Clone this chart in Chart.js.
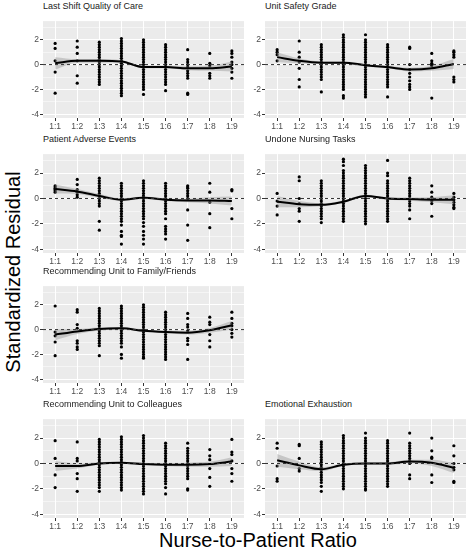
<!DOCTYPE html>
<html>
<head>
<meta charset="utf-8">
<script src="https://cdn.jsdelivr.net/npm/chart.js@4.4.1/dist/chart.umd.min.js"></script>
<style>
  body { margin:0; background:#fff; font-family:"Liberation Sans", Arial, sans-serif; }
  #wrap { position:relative; width:474px; height:556px; }
  .panel { position:absolute; }
  .ptitle { position:absolute; font-size:9px; color:#1a1a1a; white-space:nowrap; }
  #ytitle { position:absolute; left:13px; top:272px; transform:translate(-50%,-50%) rotate(-90deg); font-size:20px; white-space:nowrap; color:#000; }
  #xtitle { position:absolute; left:258px; top:540px; transform:translate(-50%,-50%); font-size:20px; white-space:nowrap; color:#000; }
</style>
</head>
<body>
<div id="wrap">
  <div id="ytitle">Standardized Residual</div>
  <div id="xtitle">Nurse-to-Patient Ratio</div>
</div>
<script>
// categorie asse x
var ratios = ['1:1','1:2','1:3','1:4','1:5','1:6','1:7','1:8','1:9'];
var titles = ['Last Shift Quality of Care', 'Unit Safety Grade', 'Patient Adverse Events',
  'Undone Nursing Tasks', 'Recommending Unit to Family/Friends',
  'Recommending Unit to Colleagues', 'Emotional Exhaustion'];

// residui per ogni rapporto (un array per colonna)
var qualityPts = [
  [1.7,1.3,0.3,-0.6,-2.3],
  [1.9,1.4,0.9,0.3,-0.9,-1.5],
  [1.8,1.6,1.4,1.2,1.0,0.8,0.6,0.4,0.2,0,-0.2,-0.4,-0.6,-0.8,-1.0,-1.2,-1.4,-1.6],
  [2.1,1.9,1.7,1.5,1.3,1.1,0.9,0.7,0.5,0.3,0.1,-0.1,-0.3,-0.5,-0.7,-0.9,-1.1,-1.3,-1.5,-1.7,-1.9,-2.1,-2.3,-2.5],
  [2.0,1.8,1.6,1.4,1.2,1.0,0.8,0.6,0.4,0.2,0,-0.2,-0.4,-0.6,-0.8,-1.0,-1.2,-1.4,-1.6,-1.8,-2.0,-2.4],
  [1.6,1.4,1.2,1.0,0.8,0.6,0.4,0.2,0,-0.2,-0.4,-0.6,-0.8,-1.0,-1.2,-1.4,-1.6,-2.1],
  [1.2,0.4,0.2,0,-0.2,-0.5,-0.7,-0.9,-1.1,-2.3,-2.4],
  [0.9,0.1,-0.1,-0.7,-0.9,-1.1],
  [1.1,0.9,0.6,0.2,0,-0.3,-0.6,-1.1]
];
var safetyPts = [
  [1.2,1.0,0.8,0.3],
  [1.9,1.0,0.6,0.2,-0.3,-1.2,-1.8],
  [1.6,1.4,1.2,1.0,0.8,0.6,0.4,0.2,0,-0.2,-0.4,-0.6,-0.8,-1.0,-1.2,-2.2],
  [2.4,2.2,2.0,1.8,1.6,1.4,1.2,1.0,0.8,0.6,0.4,0.2,0,-0.2,-0.4,-0.6,-0.8,-1.0,-1.2,-1.4,-1.6,-1.8,-2.0,-2.5,-2.7],
  [2.4,2.0,1.8,1.6,1.4,1.2,1.0,0.8,0.6,0.4,0.2,0,-0.2,-0.4,-0.6,-0.8,-1.0,-1.2,-1.4,-1.6,-1.8,-2.0,-2.2,-2.4,-2.6],
  [1.6,1.4,1.2,1.0,0.8,0.6,0.4,0.2,0,-0.2,-0.4,-0.6,-0.8,-1.0,-1.2,-1.4,-1.6,-1.8,-2.6],
  [1.4,1.3,0.0,-0.4,-0.7,-1.0,-1.3,-1.6,-1.8,-2.0],
  [0.9,0.3,0.1,0,-0.1,-2.7],
  [1.1,1.0,0.8,0.6,-1.0,-1.2,-1.4]
];
var adversePts = [
  [1.0,0.9,0.8,0.7,0.6,0.5],
  [1.5,1.1,0.7,0.5,0.3,0.1],
  [1.6,1.4,1.2,1.0,0.8,0.6,0.4,0.2,0,-0.2,-0.4,-0.6,-1.8,-2.5],
  [1.2,1.0,0.8,0.6,0.4,0.2,0,-0.2,-0.4,-0.6,-0.8,-1.0,-1.2,-1.4,-1.6,-1.8,-2.1,-2.6,-2.9,-3.0,-3.6],
  [1.4,1.2,1.0,0.8,0.6,0.4,0.2,0,-0.2,-0.4,-0.6,-0.8,-1.0,-1.2,-1.4,-1.6,-1.9,-2.2,-2.6,-2.9,-3.2,-3.6],
  [1.2,1.0,0.8,0.6,0.4,0.2,0,-0.2,-0.4,-0.6,-0.8,-1.0,-1.2,-1.6,-2.2,-2.4,-2.6,-2.8,-3.2],
  [1.0,0.9,0.8,0.6,0.4,0.2,0.0,-0.9,-2.1,-3.3],
  [1.2,0.5,-0.3,-1.2,-2.3],
  [0.7,0.6,-0.8,-1.6]
];
var undonePts = [
  [0.4,-0.2,-0.6,-1.3],
  [1.7,1.4,0,-0.4,-0.8,-1.0,-1.8],
  [1.4,1.2,1.0,0.8,0.6,0.4,0.2,0,-0.2,-0.4,-0.6,-0.8,-1.0,-1.2,-1.4,-1.6,-1.9],
  [3.1,2.9,2.6,2.2,2.0,1.8,1.6,1.4,1.2,1.0,0.8,0.6,0.4,0.2,0,-0.2,-0.4,-0.6,-0.8,-1.0,-1.2,-1.4,-1.6,-1.8],
  [2.6,2.4,2.2,2.0,1.8,1.6,1.4,1.2,1.0,0.8,0.6,0.4,0.2,0,-0.2,-0.4,-0.6,-0.8,-1.0,-1.2,-1.4,-1.6,-1.8,-2.0],
  [3.0,2.0,1.8,1.4,1.2,1.0,0.8,0.6,0.4,0.2,0,-0.2,-0.4,-0.6,-0.8,-1.0,-1.2,-1.4,-1.6,-1.8],
  [1.6,1.4,1.2,1.0,0.8,0.6,0.4,0.2,0,-0.2,-0.4,-0.6,-0.9,-1.6],
  [1.0,0.5,0.1,-0.2,-0.4,-1.4],
  [0.4,0.1,-0.1,-0.3,-0.5,-0.7,-0.8]
];
var familyPts = [
  [1.9,-0.2,-0.5,-1.0,-2.1],
  [1.6,1.4,0.4,0.1,-0.9,-1.1,-1.4,-1.6],
  [1.7,1.5,1.3,1.1,0.9,0.7,0.5,0.3,0.1,-0.1,-0.3,-0.5,-0.7,-0.9,-1.1,-1.3,-2.1],
  [1.9,1.7,1.5,1.3,1.1,0.9,0.7,0.5,0.3,0.1,-0.1,-0.3,-0.5,-0.7,-0.9,-1.1,-1.4,-2.0,-2.3],
  [2.0,1.8,1.6,1.4,1.2,1.0,0.8,0.6,0.4,0.2,0,-0.2,-0.4,-0.6,-0.8,-1.0,-1.2,-1.4,-1.6,-1.8,-2.0,-2.2,-2.3],
  [1.4,1.2,1.0,0.8,0.6,0.4,0.2,0,-0.2,-0.4,-0.6,-0.8,-1.0,-1.2,-1.4,-1.6,-1.8,-2.0,-2.2,-2.4],
  [1.3,0.9,0.4,0.2,-0.1,-0.7,-0.9,-1.2,-2.4],
  [1.0,0.6,0.4,-0.4,-0.9,-1.4],
  [1.4,0.9,0.5,0.3,0,-0.3,-0.6]
];
var colleaguesPts = [
  [1.8,0.4,-0.9,-1.9],
  [1.7,0.4,0.2,-0.8,-1.2,-2.2],
  [1.9,1.7,1.5,1.3,1.1,0.9,0.7,0.5,0.3,0.1,-0.1,-0.3,-0.5,-0.7,-0.9,-1.1,-1.3,-1.5,-1.7,-1.9,-2.2],
  [2.1,1.9,1.7,1.5,1.3,1.1,0.9,0.7,0.5,0.3,0.1,-0.1,-0.3,-0.5,-0.7,-0.9,-1.1,-1.3,-1.5,-1.7,-1.9,-2.1],
  [2.2,2.0,1.8,1.6,1.4,1.2,1.0,0.8,0.6,0.4,0.2,0,-0.2,-0.4,-0.6,-0.8,-1.0,-1.2,-1.4,-1.6,-1.8,-2.0,-2.2,-2.4],
  [1.6,1.4,1.2,1.0,0.8,0.6,0.4,0.2,0,-0.2,-0.4,-0.6,-0.8,-1.0,-1.2,-1.4,-1.6,-1.9,-2.4],
  [1.6,1.2,1.0,0.8,0.6,0.4,0.2,0,-0.2,-0.4,-0.6,-0.8,-1.0,-1.2,-2.0,-2.1],
  [1.1,0.6,0.3,-0.4,-1.1,-1.8],
  [1.9,0.9,0.7,0.2,-0.4,-0.8,-1.4]
];
var exhaustionPts = [
  [1.6,1.2,-0.2,-1.2,-1.4],
  [1.5,1.4,0.4,-0.4,-0.6],
  [1.7,1.5,1.3,1.1,0.9,0.7,0.5,0.3,0.1,-0.1,-0.3,-0.5,-0.7,-0.9,-1.1,-1.3,-1.5,-1.8,-2.2],
  [2.2,2.0,1.8,1.6,1.4,1.2,1.0,0.8,0.6,0.4,0.2,0,-0.2,-0.4,-0.6,-0.8,-1.0,-1.2,-1.4,-1.6,-1.8,-2.0],
  [2.4,2.0,1.8,1.6,1.4,1.2,1.0,0.8,0.6,0.4,0.2,0,-0.2,-0.4,-0.6,-0.8,-1.0,-1.2,-1.4,-1.6,-1.8,-2.0,-2.1],
  [1.8,1.6,1.4,1.2,1.0,0.8,0.6,0.4,0.2,0,-0.2,-0.4,-0.6,-0.8,-1.0,-1.2,-1.4,-1.6,-1.8],
  [2.4,1.6,1.4,1.2,1.0,0.8,0.6,0.4,0.2,0,-0.9,-1.2],
  [2.0,1.0,0.5,0.4,-0.9,-1.5],
  [1.4,0.6,0,-0.3,-0.5,-1.4,-1.5]
];

// curve loess (valore per ogni rapporto) e semi-ampiezza della banda
var qualitySmooth    = [0.1,0.3,0.3,0.25,-0.2,-0.2,-0.3,-0.3,-0.15];
var qualityBand      = [0.5,0.15,0.15,0.1,0.1,0.1,0.15,0.2,0.4];
var safetySmooth     = [0.6,0.3,0.15,0.15,-0.05,-0.2,-0.4,-0.3,0.05];
var safetyBand       = [0.4,0.2,0.1,0.1,0.1,0.1,0.15,0.2,0.4];
var adverseSmooth    = [0.75,0.55,0.2,-0.1,0.05,-0.1,-0.15,-0.15,-0.2];
var adverseBand      = [0.35,0.2,0.15,0.1,0.1,0.1,0.15,0.25,0.35];
var undoneSmooth     = [-0.25,-0.45,-0.5,-0.25,0.2,0.0,-0.05,-0.1,-0.1];
var undoneBand       = [0.45,0.25,0.12,0.1,0.1,0.1,0.12,0.2,0.35];
var familySmooth     = [-0.4,-0.15,0.05,0.1,-0.1,-0.2,-0.25,-0.05,0.35];
var familyBand       = [0.45,0.2,0.12,0.1,0.1,0.1,0.15,0.2,0.35];
var colleaguesSmooth = [-0.2,-0.2,0,0.05,-0.05,-0.1,-0.1,-0.05,0.15];
var colleaguesBand   = [0.4,0.2,0.1,0.08,0.08,0.1,0.15,0.2,0.35];
var exhaustionSmooth = [0.25,-0.15,-0.45,-0.1,0,0,0.15,0.05,-0.35];
var exhaustionBand   = [0.5,0.3,0.15,0.1,0.08,0.1,0.15,0.25,0.4];

var yTicks = [-4,-2,0,2];

// posizione dei pannelli: [sinistra area, alto area, altezza area]
var panels = [
  [qualityPts, qualitySmooth, qualityBand, 43, 15, 103],
  [safetyPts, safetySmooth, safetyBand, 265, 15, 103],
  [adversePts, adverseSmooth, adverseBand, 43, 148, 105],
  [undonePts, undoneSmooth, undoneBand, 265, 148, 105],
  [familyPts, familySmooth, familyBand, 43, 280, 103],
  [colleaguesPts, colleaguesSmooth, colleaguesBand, 43, 413, 105],
  [exhaustionPts, exhaustionSmooth, exhaustionBand, 265, 413, 105]
];

var bgPlugin = {
  id: 'bg',
  beforeDraw: function(chart){
    var a = chart.chartArea, c = chart.ctx;
    c.save();
    c.fillStyle = '#EBEBEB';
    c.fillRect(a.left, a.top, a.right - a.left, a.bottom - a.top);
    c.restore();
  },
  // linea tratteggiata a zero
  afterDatasetsDraw: function(chart){
    var a = chart.chartArea, c = chart.ctx;
    var y0 = chart.scales.y.getPixelForValue(0);
    c.save();
    c.strokeStyle = '#333';
    c.lineWidth = 1;
    c.setLineDash([3,3]);
    c.beginPath();
    c.moveTo(a.left, y0);
    c.lineTo(a.right, y0);
    c.stroke();
    c.restore();
  }
};

var wrap = document.getElementById('wrap');
var axW = 20, axH = 16, plotW = 205;

for (var p = 0; p < panels.length; p++) {
  var pts = panels[p][0], sm = panels[p][1], bd = panels[p][2];
  var pLeft = panels[p][3], pTop = panels[p][4], pH = panels[p][5];

  var t = document.createElement('div');
  t.className = 'ptitle';
  t.style.left = pLeft + 'px';
  t.style.top = (pTop - 14) + 'px';
  t.textContent = titles[p];
  wrap.appendChild(t);

  var d = document.createElement('div');
  d.className = 'panel';
  d.style.left = (pLeft - axW) + 'px';
  d.style.top = pTop + 'px';
  d.style.width = (plotW + axW) + 'px';
  d.style.height = (pH + axH) + 'px';
  var cv = document.createElement('canvas');
  d.appendChild(cv);
  wrap.appendChild(d);

  var punti = [], linea = [], alto = [], basso = [];
  for (var i = 0; i < pts.length; i++) {
    for (var j = 0; j < pts[i].length; j++) punti.push({x: i + 1, y: pts[i][j]});
    linea.push({x: i + 1, y: sm[i]});
    alto.push({x: i + 1, y: sm[i] + bd[i]});
    basso.push({x: i + 1, y: sm[i] - bd[i]});
  }

  new Chart(cv, {
    type: 'scatter',
    data: {
      datasets: [
        { data: linea, showLine: true, borderColor: '#000', borderWidth: 2, pointRadius: 0,
          cubicInterpolationMode: 'monotone', order: 0 },
        { data: alto, showLine: true, borderWidth: 0, borderColor: 'rgba(0,0,0,0)', pointRadius: 0,
          fill: '+1', backgroundColor: 'rgba(153,153,153,0.45)', cubicInterpolationMode: 'monotone', order: 1 },
        { data: basso, showLine: true, borderWidth: 0, borderColor: 'rgba(0,0,0,0)', pointRadius: 0,
          cubicInterpolationMode: 'monotone', order: 1 },
        { data: punti, pointRadius: 1.6, pointBackgroundColor: '#000', pointBorderWidth: 0, order: 2 }
      ]
    },
    options: {
      responsive: true,
      maintainAspectRatio: false,
      animation: false,
      layout: { padding: 0 },
      plugins: { legend: { display: false }, tooltip: { enabled: false } },
      scales: {
        x: {
          type: 'linear', min: 0.45, max: 9.55,
          afterBuildTicks: function(s){ s.ticks = ratios.map(function(r, k){ return {value: k + 1}; }); },
          afterFit: function(s){ s.height = axH; },
          ticks: { callback: function(v){ return ratios[v - 1]; }, color: '#4D4D4D', font: { size: 8.5 }, padding: 1, maxRotation: 0, autoSkip: false },
          grid: { color: '#fff', lineWidth: 1, tickColor: '#333', tickLength: 3 },
          border: { display: false }
        },
        y: {
          min: -4.3, max: 3.5,
          afterBuildTicks: function(s){ s.ticks = [-4,-3,-2,-1,0,1,2,3].map(function(v){ return {value: v}; }); },
          afterFit: function(s){ s.width = axW; },
          ticks: { callback: function(v){ return yTicks.indexOf(v) >= 0 ? String(v) : ''; }, color: '#4D4D4D', font: { size: 8.5 }, padding: 1 },
          grid: {
            color: '#fff',
            lineWidth: function(c){ return (c.tick && Math.abs(c.tick.value) % 2 === 1) ? 0.5 : 1; },
            tickColor: function(c){ return (c.tick && Math.abs(c.tick.value) % 2 === 1) ? 'rgba(0,0,0,0)' : '#333'; },
            tickLength: 3
          },
          border: { display: false }
        }
      }
    },
    plugins: [bgPlugin]
  });
}
</script>
</body>
</html>
